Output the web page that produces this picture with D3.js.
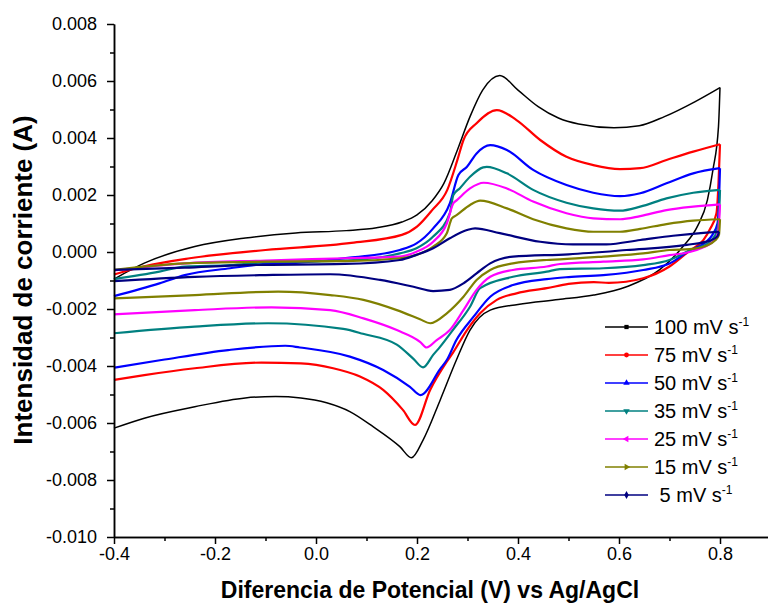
<!DOCTYPE html>
<html>
<head>
<meta charset="utf-8">
<script src="https://cdn.jsdelivr.net/npm/d3@7/dist/d3.min.js"></script>
<style>
  body { margin: 0; background: #fff; }
  svg { display: block; font-family: "Liberation Sans", Arial, sans-serif; }
  .tick text { font-size: 18px; fill: #000; }
  .axis path, .axis line { stroke: #000; stroke-width: 1.5px; }
  .title { font-weight: bold; }
  .legend text { font-size: 20px; }
</style>
</head>
<body>
<svg id="chart" width="768" height="603"></svg>
<script>
// cyclic voltammograms, potential in V, current in mA (axis shows A)
const scanRates = ['100', '75', '50', '35', '25', '15', '\u00a05'];

const cv100 = [[-0.40,-0.95],[-0.34,-0.39],[-0.24,0.19],[-0.14,0.49],[-0.04,0.67],[0.06,0.75],[0.12,0.85],[0.17,1.05],[0.20,1.3],[0.23,1.8],[0.253,2.4],[0.28,3.58],[0.305,4.75],[0.33,5.68],[0.364,6.19],[0.40,5.68],[0.44,5.10],[0.48,4.70],[0.52,4.49],[0.59,4.36],[0.64,4.43],[0.69,4.75],[0.75,5.27],[0.80,5.77],
  [0.797,4.4],[0.786,2.88],[0.775,1.82],[0.755,0.89],[0.727,0.2],[0.68,-0.63],[0.615,-1.22],[0.55,-1.51],[0.48,-1.67],[0.40,-1.84],[0.345,-2.04],[0.305,-2.74],[0.278,-3.79],[0.246,-5.19],[0.212,-6.6],[0.189,-7.22],[0.166,-6.83],[0.113,-6.13],[0.067,-5.6],[0.021,-5.29],[-0.03,-5.12],[-0.08,-5.07],[-0.14,-5.12],[-0.24,-5.43],[-0.34,-5.83],[-0.40,-6.18]];

const cv75 = [[-0.40,-0.79],[-0.34,-0.5],[-0.25,-0.22],[-0.10,0.07],[0.07,0.32],[0.17,0.6],[0.20,0.89],[0.23,1.47],[0.26,2.18],[0.28,3.23],[0.292,3.93],[0.318,4.52],[0.358,4.98],[0.397,4.63],[0.444,3.93],[0.496,3.34],[0.549,3.05],[0.602,2.91],[0.642,2.94],[0.694,3.23],[0.747,3.52],[0.80,3.78],
  [0.797,2.4],[0.793,1.36],[0.78,0.8],[0.767,0.42],[0.74,0.05],[0.70,-0.51],[0.648,-0.92],[0.58,-1.08],[0.55,-1.06],[0.50,-1.12],[0.457,-1.27],[0.397,-1.45],[0.358,-1.68],[0.325,-2.15],[0.299,-2.74],[0.271,-3.54],[0.259,-3.85],[0.226,-4.84],[0.196,-6.07],[0.172,-5.54],[0.133,-4.84],[0.087,-4.37],[0.034,-4.08],[-0.03,-3.91],[-0.108,-3.88],[-0.24,-4.08],[-0.34,-4.32],[-0.40,-4.49]];

const cv50 = [[-0.40,-1.55],[-0.31,-1.1],[-0.26,-0.81],[-0.17,-0.57],[-0.10,-0.42],[-0.04,-0.38],[0.067,-0.2],[0.166,0.07],[0.199,0.3],[0.232,0.83],[0.265,1.71],[0.282,2.7],[0.299,2.99],[0.318,3.46],[0.345,3.75],[0.378,3.58],[0.43,2.88],[0.496,2.35],[0.549,2.08],[0.602,1.96],[0.642,2.06],[0.694,2.41],[0.747,2.76],[0.80,2.94],
  [0.798,1.8],[0.795,1.0],[0.785,0.6],[0.77,0.32],[0.74,0.05],[0.70,-0.4],[0.648,-0.63],[0.569,-0.81],[0.50,-0.88],[0.457,-0.95],[0.39,-1.16],[0.345,-1.57],[0.312,-2.27],[0.278,-3.09],[0.259,-3.79],[0.246,-4.1],[0.207,-5.02],[0.186,-4.73],[0.133,-4.14],[0.067,-3.67],[-0.032,-3.35],[-0.061,-3.29],[-0.174,-3.44],[-0.306,-3.79],[-0.40,-4.06]];

const cv35 = [[-0.40,-0.95],[-0.31,-0.69],[-0.26,-0.51],[-0.17,-0.46],[-0.10,-0.36],[0.057,-0.3],[0.166,-0.05],[0.199,0.13],[0.232,0.54],[0.265,1.36],[0.272,2.0],[0.285,2.24],[0.305,2.64],[0.331,2.97],[0.338,2.99],[0.378,2.76],[0.43,2.18],[0.496,1.73],[0.549,1.53],[0.602,1.45],[0.642,1.59],[0.694,1.88],[0.747,2.08],[0.80,2.18],
  [0.798,1.3],[0.795,0.8],[0.785,0.45],[0.765,0.2],[0.74,0.05],[0.70,-0.28],[0.648,-0.46],[0.569,-0.57],[0.483,-0.6],[0.457,-0.69],[0.39,-0.87],[0.325,-1.27],[0.305,-1.92],[0.271,-2.74],[0.246,-3.32],[0.232,-3.61],[0.212,-4.05],[0.193,-3.75],[0.16,-3.25],[0.093,-2.87],[0.054,-2.7],[-0.095,-2.5],[-0.24,-2.62],[-0.40,-2.85]];

const cv25 = [[-0.40,-0.65],[-0.26,-0.4],[-0.10,-0.3],[0.057,-0.22],[0.166,-0.16],[0.199,0.01],[0.232,0.36],[0.259,1.0],[0.272,1.71],[0.279,1.82],[0.305,2.23],[0.332,2.43],[0.378,2.23],[0.43,1.77],[0.496,1.36],[0.549,1.18],[0.602,1.15],[0.642,1.26],[0.694,1.47],[0.747,1.59],[0.80,1.67],
  [0.798,1.0],[0.795,0.6],[0.785,0.35],[0.765,0.15],[0.74,0.0],[0.70,-0.11],[0.648,-0.26],[0.569,-0.34],[0.483,-0.42],[0.457,-0.51],[0.39,-0.63],[0.345,-0.87],[0.318,-1.33],[0.292,-2.04],[0.265,-2.74],[0.239,-3.09],[0.219,-3.35],[0.206,-3.15],[0.16,-2.74],[0.094,-2.33],[0.028,-2.04],[-0.088,-1.94],[-0.24,-2.04],[-0.40,-2.19]];

const cv15 = [[-0.40,-0.63],[-0.26,-0.4],[-0.10,-0.34],[0.057,-0.32],[0.166,-0.22],[0.199,-0.1],[0.232,0.19],[0.259,0.66],[0.269,1.18],[0.279,1.3],[0.305,1.65],[0.325,1.8],[0.378,1.53],[0.43,1.15],[0.496,0.83],[0.549,0.71],[0.602,0.71],[0.642,0.81],[0.694,0.98],[0.747,1.1],[0.80,1.15],
  [0.798,0.6],[0.79,0.4],[0.77,0.2],[0.74,0.1],[0.70,0.07],[0.648,-0.05],[0.569,-0.16],[0.483,-0.26],[0.457,-0.28],[0.39,-0.4],[0.345,-0.63],[0.318,-0.98],[0.292,-1.57],[0.259,-2.15],[0.226,-2.5],[0.206,-2.36],[0.16,-2.04],[0.094,-1.68],[0.028,-1.51],[-0.075,-1.39],[-0.24,-1.51],[-0.40,-1.63]];

const cv5 = [[-0.40,-0.63],[-0.26,-0.55],[-0.14,-0.46],[0.057,-0.42],[0.166,-0.28],[0.199,-0.1],[0.232,0.13],[0.259,0.42],[0.265,0.48],[0.299,0.77],[0.315,0.83],[0.364,0.66],[0.444,0.36],[0.509,0.27],[0.575,0.27],[0.642,0.42],[0.707,0.57],[0.773,0.68],[0.798,0.71],
  [0.795,0.55],[0.78,0.4],[0.734,0.25],[0.615,0.07],[0.5,-0.08],[0.39,-0.16],[0.345,-0.4],[0.318,-0.75],[0.292,-1.1],[0.265,-1.33],[0.232,-1.37],[0.193,-1.22],[0.127,-0.98],[0.028,-0.78],[-0.1,-0.81],[-0.24,-0.87],[-0.40,-1.02]];

const series = [cv100, cv75, cv50, cv35, cv25, cv15, cv5];
const colors = ['#000000', '#ff0000', '#0000ff', '#008080', '#ff00ff', '#808000', '#000080'];
const symbols = [d3.symbolSquare, d3.symbolCircle, d3.symbolTriangle, d3.symbolTriangle, d3.symbolTriangle, d3.symbolTriangle, d3.symbolDiamond];
const symbolRotation = [0, 0, 0, 180, -90, 90, 0];

const xMajor = [-0.4, -0.2, 0, 0.2, 0.4, 0.6, 0.8];
const xMinor = [-0.3, -0.1, 0.1, 0.3, 0.5, 0.7];
const yMajor = [-10, -8, -6, -4, -2, 0, 2, 4, 6, 8];
const yMinor = [-9, -7, -5, -3, -1, 1, 3, 5, 7];

const svg = d3.select('#chart');
const x = d3.scaleLinear().domain([-0.4, 0.9]).range([114, 770.5]);
const y = d3.scaleLinear().domain([-10, 8]).range([537, 24]);

const line = d3.line()
    .x(d => x(d[0]))
    .y(d => y(d[1]))
    .curve(d3.curveMonotoneX);

// split each loop at the switching potential: anodic sweep, then cathodic sweep
const branches = series.flatMap((pts, i) => {
    const turn = d3.maxIndex(pts, d => d[0]);
    const width = i === 0 ? 1.5 : 2.2;
    return [
        { color: colors[i], width, pts: pts.slice(0, turn + 1) },
        { color: colors[i], width, pts: pts.slice(turn) }
    ];
});

svg.append('g')
    .selectAll('path')
    .data(branches)
    .enter()
    .append('path')
    .attr('d', d => line(d.pts))
    .attr('fill', 'none')
    .attr('stroke', d => d.color)
    .attr('stroke-width', d => d.width)
    .attr('stroke-linejoin', 'round');

// axes
svg.append('g').attr('class', 'axis').attr('transform', 'translate(0,537)')
    .call(d3.axisBottom(x).tickValues(xMinor).tickSize(4).tickSizeOuter(0).tickFormat(''));
svg.append('g').attr('class', 'axis').attr('transform', 'translate(0,537)')
    .call(d3.axisBottom(x).tickValues(xMajor).tickSize(7).tickSizeOuter(0).tickPadding(3)
        .tickFormat(d => d.toFixed(1)));
svg.append('g').attr('class', 'axis').attr('transform', 'translate(114,0)')
    .call(d3.axisLeft(y).tickValues(yMinor).tickSize(4).tickSizeOuter(0).tickFormat(''));
svg.append('g').attr('class', 'axis').attr('transform', 'translate(114,0)')
    .call(d3.axisLeft(y).tickValues(yMajor).tickSize(7).tickSizeOuter(0).tickPadding(10)
        .tickFormat(d => (d / 1000).toFixed(3)));

svg.append('text')
    .attr('class', 'title')
    .attr('x', 430).attr('y', 598)
    .attr('text-anchor', 'middle')
    .style('font-size', '23px')
    .text('Diferencia de Potencial (V) vs Ag/AgCl');

svg.append('text')
    .attr('class', 'title')
    .attr('transform', 'translate(32,280) rotate(-90)')
    .attr('text-anchor', 'middle')
    .style('font-size', '26px')
    .text('Intensidad de corriente (A)');

// legend
const legend = svg.append('g')
    .attr('class', 'legend')
    .selectAll('g')
    .data(scanRates)
    .enter()
    .append('g')
    .attr('transform', (d, i) => `translate(605, ${327 + i * 28})`);

legend.append('line')
    .attr('x1', 0).attr('x2', 43)
    .attr('stroke', (d, i) => colors[i])
    .attr('stroke-width', 1.3);

legend.append('path')
    .attr('d', (d, i) => d3.symbol().type(symbols[i]).size(18)())
    .attr('transform', (d, i) => `translate(21.5,0) rotate(${symbolRotation[i]})`)
    .attr('fill', (d, i) => colors[i]);

const labels = legend.append('text')
    .attr('x', 49).attr('y', 7);
labels.append('tspan').text(d => `${d} mV s`);
labels.append('tspan').attr('dy', -8).style('font-size', '12px').text('-1');
</script>
</body>
</html>
